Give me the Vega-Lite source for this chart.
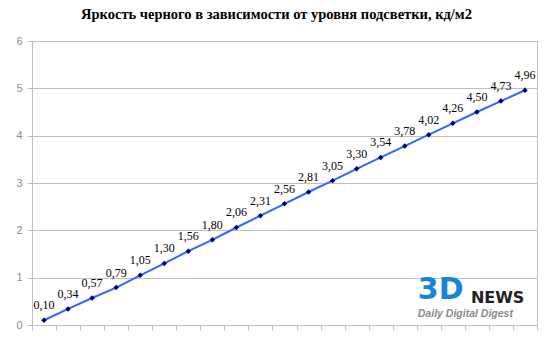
{
  "$schema": "https://vega.github.io/schema/vega-lite/v6.json",
  "autosize": {"type": "none"},
  "width": 505,
  "height": 284,
  "padding": {"left": 32, "top": 41, "right": 13, "bottom": 31},
  "title": {
    "text": "Яркость черного в зависимости от уровня подсветки, кд/м2",
    "font": "Liberation Serif",
    "fontSize": 14.5,
    "fontWeight": "bold",
    "color": "#000000",
    "anchor": "middle",
    "dx": -8,
    "offset": 13
  },
  "config": {
    "view": {"stroke": "#bfbfbf", "strokeWidth": 1},
    "background": "#ffffff"
  },
  "data": {
    "values": [
      {"i": 1, "v": 0.10, "t": "0,10"},
      {"i": 2, "v": 0.34, "t": "0,34"},
      {"i": 3, "v": 0.57, "t": "0,57"},
      {"i": 4, "v": 0.79, "t": "0,79"},
      {"i": 5, "v": 1.05, "t": "1,05"},
      {"i": 6, "v": 1.30, "t": "1,30"},
      {"i": 7, "v": 1.56, "t": "1,56"},
      {"i": 8, "v": 1.80, "t": "1,80"},
      {"i": 9, "v": 2.06, "t": "2,06"},
      {"i": 10, "v": 2.31, "t": "2,31"},
      {"i": 11, "v": 2.56, "t": "2,56"},
      {"i": 12, "v": 2.81, "t": "2,81"},
      {"i": 13, "v": 3.05, "t": "3,05"},
      {"i": 14, "v": 3.30, "t": "3,30"},
      {"i": 15, "v": 3.54, "t": "3,54"},
      {"i": 16, "v": 3.78, "t": "3,78"},
      {"i": 17, "v": 4.02, "t": "4,02"},
      {"i": 18, "v": 4.26, "t": "4,26"},
      {"i": 19, "v": 4.50, "t": "4,50"},
      {"i": 20, "v": 4.73, "t": "4,73"},
      {"i": 21, "v": 4.96, "t": "4,96"}
    ]
  },
  "encoding": {
    "x": {
      "field": "i",
      "type": "ordinal",
      "scale": {"type": "band", "paddingInner": 0, "paddingOuter": 0},
      "axis": {
        "title": null,
        "labels": false,
        "grid": false,
        "tickBand": "extent",
        "domainColor": "#bfbfbf",
        "tickColor": "#bfbfbf",
        "tickSize": 5
      }
    },
    "y": {
      "field": "v",
      "type": "quantitative",
      "scale": {"domain": [0, 6], "nice": false},
      "axis": {
        "title": null,
        "values": [0, 1, 2, 3, 4, 5, 6],
        "grid": true,
        "gridColor": "#bfbfbf",
        "domainColor": "#bfbfbf",
        "tickColor": "#bfbfbf",
        "tickSize": 5,
        "labelPadding": 5,
        "labelColor": "#8c8c8c",
        "labelFont": "Liberation Sans",
        "labelFontSize": 11
      }
    }
  },
  "layer": [
    {
      "mark": {"type": "line", "color": "#3366ff", "strokeWidth": 2}
    },
    {
      "mark": {"type": "point", "filled": true, "shape": "diamond", "color": "#000080", "size": 30, "opacity": 1}
    },
    {
      "mark": {"type": "text", "font": "Liberation Serif", "fontSize": 12, "color": "#000000", "dy": -15},
      "encoding": {"text": {"field": "t"}}
    },
    {
      "transform": [{"filter": "datum.i == 21"}],
      "mark": {"type": "text", "font": "DejaVu Sans", "fontSize": 30, "fontWeight": "bold", "color": "#1a85d6", "align": "left", "baseline": "middle", "dx": -11},
      "encoding": {"x": {"datum": 17}, "y": {"datum": 0.74}, "text": {"value": "3D"}}
    },
    {
      "transform": [{"filter": "datum.i == 21"}],
      "mark": {"type": "text", "font": "DejaVu Sans", "fontSize": 16, "fontWeight": "bold", "color": "#222222", "align": "left", "baseline": "middle", "dx": -6},
      "encoding": {"x": {"datum": 19}, "y": {"datum": 0.56}, "text": {"value": "NEWS"}}
    },
    {
      "transform": [{"filter": "datum.i == 21"}],
      "mark": {"type": "text", "font": "Liberation Sans", "fontSize": 10.5, "fontWeight": "bold", "fontStyle": "italic", "color": "#8a8a8a", "align": "left", "baseline": "middle", "dx": -11},
      "encoding": {"x": {"datum": 17}, "y": {"datum": 0.24}, "text": {"value": "Daily Digital Digest"}}
    }
  ]
}
